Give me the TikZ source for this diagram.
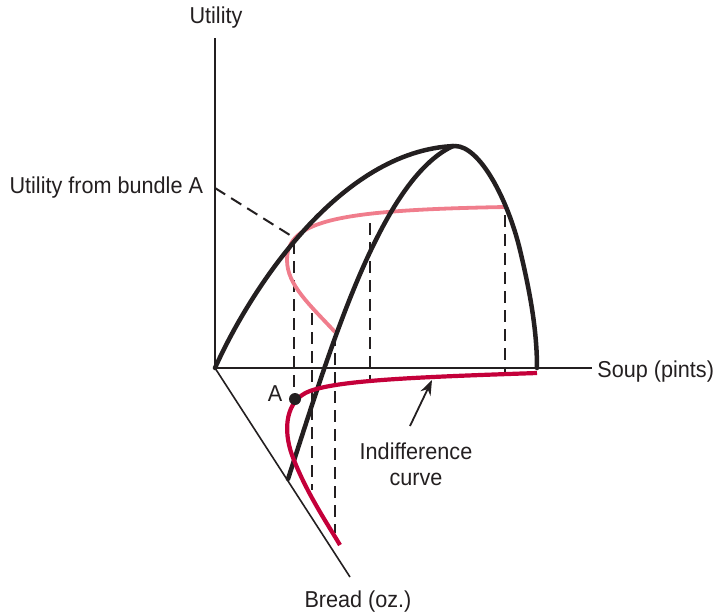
\documentclass[tikz,border=0pt]{standalone}
\usepackage{fontspec}
\setmainfont[FakeStretch=0.94]{Liberation Sans}
\usetikzlibrary{arrows.meta}
\definecolor{inkblack}{RGB}{35,31,32}
\definecolor{pinkc}{RGB}{240,125,140}
\definecolor{redc}{RGB}{196,0,58}
\tikzset{
  lbl/.style={inner sep=0pt, outer sep=0pt, text=inkblack, font=\fontsize{23}{27}\selectfont},
  axisline/.style={draw=inkblack, line width=2pt},
  thinaxis/.style={draw=inkblack, line width=1.6pt},
  bigcurve/.style={draw=inkblack, line width=4.5pt, line cap=round},
  dashline/.style={draw=inkblack, line width=2pt, dash pattern=on 12pt off 7pt},
  pinkcurve/.style={draw=pinkc, line width=3.8pt},
  redcurve/.style={draw=redc, line width=4.2pt},
}
\begin{document}
\begin{tikzpicture}[x=1pt,y=-1pt]
\useasboundingbox (0,0) rectangle (718,614);
% axes
\coordinate (O) at (215,368);
\coordinate (ytop) at (215,38);
\coordinate (xend) at (592,368);
\coordinate (zend) at (350,577);
\draw[axisline] (O) -- (ytop);
\draw[axisline] (O) -- (xend);
\draw[thinaxis] (O) -- (zend);
% labels
\node[lbl, anchor=base] (utl) at (216,23) {Utility};
\node[lbl, anchor=base east] (soup) at (714,377) {Soup (pints)};
\node[lbl, anchor=base] (bread) at (358,607) {Bread (oz.)};
\node[lbl, anchor=base east] (ufb) at (203,193) {Utility from bundle A};
\node[lbl, anchor=base] (alab) at (275,401) {A};
\node[lbl, anchor=base] (ind1) at (416,459) {Indifference};
\node[lbl, anchor=base] (ind2) at (416,485) {curve};
% dashed lines
\coordinate (uA) at (215,188);
\coordinate (pA) at (293,237);
\draw[dashline] (uA) -- (pA);
\coordinate (d1t) at (294,242); \coordinate (d1b) at (294,399);
\coordinate (d2t) at (312,313); \coordinate (d2b) at (312,490);
\coordinate (d3t) at (335,334); \coordinate (d3b) at (335,533);
\coordinate (d4t) at (370,223); \coordinate (d4b) at (370,381);
\coordinate (d5t) at (505,215); \coordinate (d5b) at (505,375);
\draw[dashline] (d1t) -- (d1b);
\draw[dashline] (d2t) -- (d2b);
\draw[dashline] (d3t) -- (d3b);
\draw[dashline] (d4t) -- (d4b);
\draw[dashline] (d5t) -- (d5b);
% pink curve
\draw[pinkcurve] (335,332) .. controls (310,305) and (287,285) .. (287,260)
  .. controls (287,220) and (340,210) .. (505,207);
% outer curve
\draw[bigcurve] (215,368) .. controls (250,290) and (340,150) .. (455,146)
  .. controls (480,146) and (508,200) .. (520,250)
  .. controls (530,292) and (537,330) .. (537,368);
% inner curve
\draw[bigcurve] (288,479) .. controls (330,350) and (380,180) .. (453,146);
% red indifference curve
\draw[redcurve] (537,373) .. controls (420,377) and (340,380) .. (310,391)
  .. controls (285,400) and (283,430) .. (292,455)
  .. controls (305,490) and (325,520) .. (340,545);
% point A
\fill[inkblack] (295,399) circle (6pt) node (dotA) {};
% arrow
\coordinate (arS) at (410,426);
\coordinate (arE) at (432,380);
\draw[draw=inkblack, line width=1.8pt, -{Stealth[length=15pt,width=11pt]}] (arS) -- (arE);
\end{tikzpicture}
\end{document}
